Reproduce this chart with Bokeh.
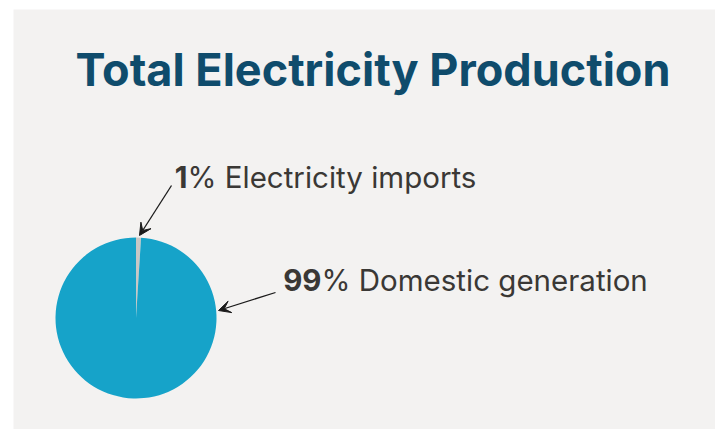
import numpy as np
from bokeh.plotting import figure
from bokeh.models import Range1d, Arrow, VeeHead, ColumnDataSource
from bokeh.core.properties import value
from bokeh.embed import file_html
from bokeh.resources import INLINE

# data
categories = ["Electricity imports", "Domestic generation"]
shares = [1, 99]
colors = ["#c9c7c5", "#16a3c9"]
title_text = "Total Electricity Production"

W, H = 715, 429
p = figure(width=W, height=H, output_backend="svg", toolbar_location=None,
           x_range=Range1d(13, 715), y_range=Range1d(0, 420),
           min_border_left=13, min_border_top=9, min_border_right=0, min_border_bottom=0)
p.axis.visible = False
p.grid.visible = False
p.outline_line_color = None
p.background_fill_color = "#f3f2f1"
p.border_fill_color = "white"

def sy(y):
    return 429 - y

# pie
vals = np.array(shares, dtype=float)
frac = vals / vals.sum() * 2 * np.pi
ends = np.pi / 2 - np.concatenate([[0], np.cumsum(frac)[:-1]])
starts = ends - frac
src = ColumnDataSource(dict(start=starts, end=ends, color=colors, cat=categories))
p.wedge(x=135.5, y=sy(317.5), radius=80.5, start_angle="start", end_angle="end",
        fill_color="color", line_color=None, source=src)

# title
p.text(x=[372.5], y=[sy(69)], text=[title_text], text_font=value("Inter"),
       text_font_style="bold", text_font_size="45px", text_color="#0f4c6c",
       text_align="center", text_baseline="alphabetic")

# labels
lab_font = value("Inter")
num_x = [187, 321]
num_y = [sy(176), sy(279)]
nums = [f"{shares[0]}", f"{shares[1]}"]
rests = [f"% {categories[0]}", f"% {categories[1]}"]
p.text(x=num_x, y=num_y, text=nums, text_font=lab_font, text_font_style="bold",
       text_font_size="29.5px", text_color="#3a3835", text_align="right",
       text_baseline="alphabetic")
p.text(x=num_x, y=num_y, text=rests, text_font=lab_font,
       text_font_size="29.5px", text_color="#3a3835", text_align="left",
       text_baseline="alphabetic")

# arrows
for (x0, y0, x1, y1) in [(171, 185, 139, 235), (275, 292, 218, 310)]:
    p.add_layout(Arrow(end=VeeHead(size=12, fill_color="#1a1a1a", line_color="#1a1a1a"),
                       x_start=x0, y_start=sy(y0), x_end=x1, y_end=sy(y1),
                       line_color="#1a1a1a", line_width=1.3))

open("out.html", "w").write(file_html(p, INLINE))
